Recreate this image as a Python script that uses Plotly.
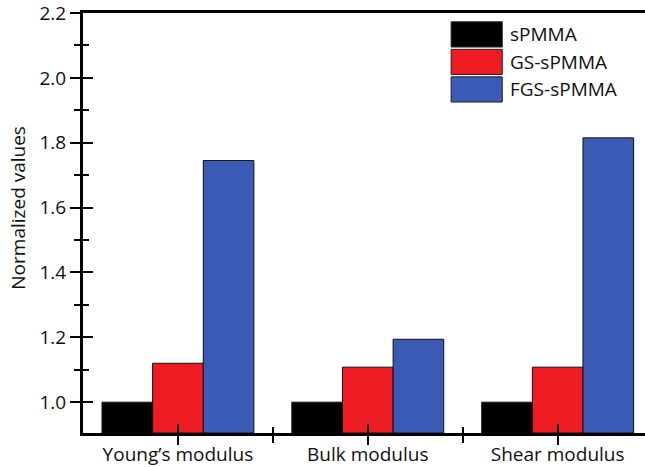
import plotly.graph_objects as go

categories = ["Young\u2019s modulus", "Bulk modulus", "Shear modulus"]
series_names = ["sPMMA", "GS-sPMMA", "FGS-sPMMA"]
spmma = [1.0, 1.0, 1.0]
gs_spmma = [1.12, 1.108, 1.108]
fgs_spmma = [1.745, 1.194, 1.815]
colors = ["#000000", "#EE1D23", "#3A5AB5"]

FONT = "Open Sans"
xpos = list(range(len(categories)))
yr = [0.905, 2.2]
xr = [-0.5, 2.46]
ymajor = [1.0, 1.2, 1.4, 1.6, 1.8, 2.0, 2.2]
yminor = [1.1, 1.3, 1.5, 1.7, 1.9, 2.1]

fig = go.Figure()
# bars start at the bottom of the axis, so heights are measured from there
for name, vals, col in zip(series_names, [spmma, gs_spmma, fgs_spmma], colors):
    fig.add_trace(go.Bar(x=xpos, y=[v - yr[0] for v in vals], base=yr[0], name=name,
                         marker=dict(color=col, line=dict(color="#111111", width=1)),
                         showlegend=False, hoverinfo="skip"))

# hidden trace so the overlaid axes (inner half of the crossing ticks) get drawn
fig.add_trace(go.Scatter(x=[xr[0]], y=[yr[0]], mode="markers", marker=dict(opacity=0),
                         xaxis="x2", yaxis="y2", showlegend=False, hoverinfo="skip"))

# legend drawn as large swatches
for i, (name, col) in enumerate(zip(series_names, colors)):
    y0 = 0.979 - i * 0.0655
    fig.add_shape(type="rect", xref="paper", yref="paper",
                  x0=0.655, x1=0.746, y0=y0 - 0.06, y1=y0,
                  fillcolor=col, line=dict(color="#222222", width=1))
    fig.add_annotation(xref="paper", yref="paper", x=0.756, y=y0 - 0.03,
                       text=name, showarrow=False, xanchor="left", yanchor="middle",
                       font=dict(family=FONT, size=19, color="#111111"))

# y title as annotation so it can sit closer to the edge
fig.add_annotation(xref="paper", yref="paper", x=-0.116, y=0.536,
                   text="Normalized values", textangle=-90, showarrow=False,
                   xanchor="center", yanchor="middle",
                   font=dict(family=FONT, size=19, color="#111111"))

fig.update_layout(
    width=645, height=467,
    margin=dict(l=83, r=0, t=13, b=34),
    paper_bgcolor="white", plot_bgcolor="white",
    barmode="group", bargap=0.2, bargroupgap=0,
    font=dict(family=FONT, size=19, color="#111111"),
    xaxis=dict(range=xr, tickvals=xpos, ticktext=categories,
               showline=True, linecolor="black", linewidth=3, mirror=True,
               ticks="outside", ticklen=9, tickwidth=2, tickcolor="black",
               ticklabelstandoff=-7,
               minor=dict(tickvals=[0.5, 1.5], ticks="outside", ticklen=7,
                          tickwidth=2, tickcolor="black"),
               showgrid=False, zeroline=False, automargin=False),
    yaxis=dict(range=yr, tickvals=ymajor, ticktext=[f"{v:.1f}" for v in ymajor],
               showline=True, linecolor="black", linewidth=3,
               ticks="outside", ticklen=10, tickwidth=2, tickcolor="black",
               ticklabeloverflow="allow",
               minor=dict(tickvals=yminor, ticks="outside",
                          ticklen=6, tickwidth=2, tickcolor="black"),
               showgrid=False, zeroline=False, automargin=False),
    xaxis2=dict(range=xr, overlaying="x", anchor="y", side="bottom",
                tickvals=xpos, showticklabels=False,
                ticks="inside", ticklen=9, tickwidth=2, tickcolor="black",
                minor=dict(tickvals=[0.5, 1.5], ticks="inside", ticklen=6,
                           tickwidth=2, tickcolor="black"),
                showline=False, showgrid=False, zeroline=False),
    yaxis2=dict(range=yr, overlaying="y", anchor="x", side="left",
                tickvals=ymajor, showticklabels=False,
                ticks="inside", ticklen=10, tickwidth=2, tickcolor="black",
                minor=dict(tickvals=yminor, ticks="inside",
                           ticklen=6, tickwidth=2, tickcolor="black"),
                showline=False, showgrid=False, zeroline=False),
)

# drop the default 8px body margin so the figure fills the window
fig.write_html("out.html", config={"displayModeBar": False},
               post_script="document.body.style.margin='0';")
